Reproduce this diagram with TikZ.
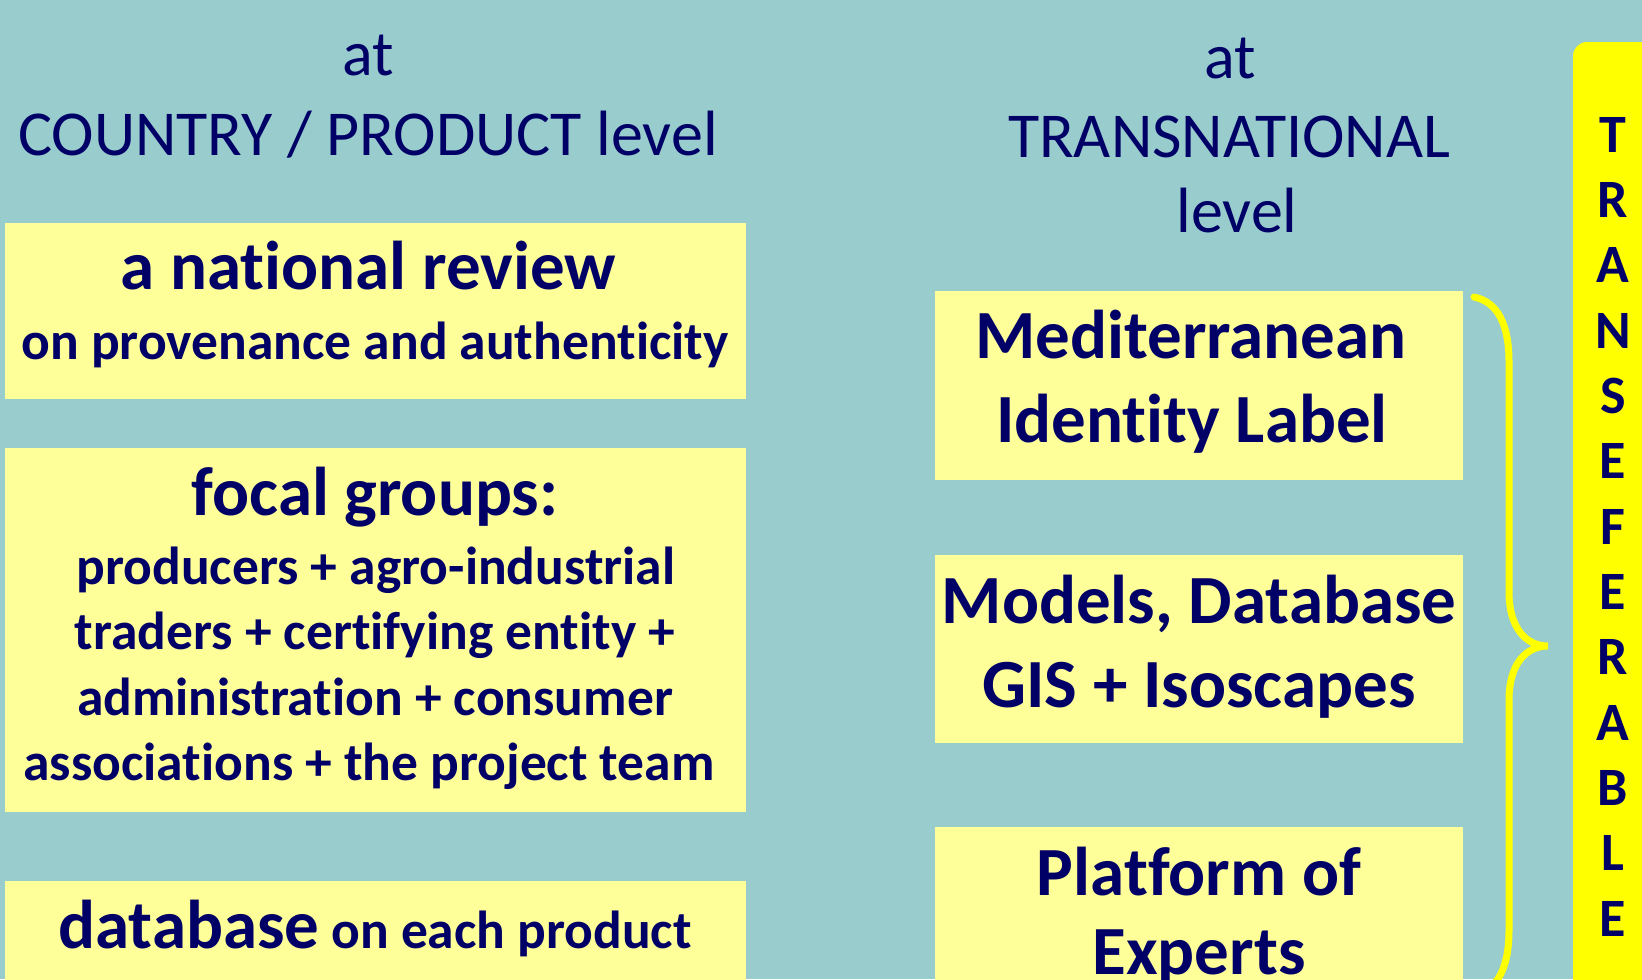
\documentclass[tikz,border=0pt]{standalone}
\usepackage{fontspec}
\setmainfont{Carlito}[RawFeature={-liga,-dlig,-clig}]
\definecolor{bgteal}{HTML}{99CCCC}
\definecolor{paleyellow}{HTML}{FFFF99}
\definecolor{brightyellow}{HTML}{FFFF00}
\definecolor{navy}{HTML}{000066}
\tikzset{
  heading/.style={text=navy, inner sep=0pt, anchor=base, font=\fontsize{64bp}{78bp}\selectfont},
  bigline/.style={text=navy, inner sep=0pt, anchor=base, font=\fontsize{69bp}{84bp}\selectfont\bfseries},
  smallline/.style={text=navy, inner sep=0pt, anchor=base, font=\fontsize{53.5bp}{65bp}\selectfont\bfseries},
  letter/.style={text=navy, inner sep=0pt, anchor=base, font=\fontsize{54bp}{65bp}\selectfont\bfseries},
  panel/.style={fill=paleyellow},
}
\begin{document}
\begin{tikzpicture}[x=1bp, y=-1bp]
  \useasboundingbox (0,0) rectangle (1642,979);
  \clip (0,0) rectangle (1642,979);
  \fill[bgteal] (0,0) rectangle (1642,979);

  % column headings
  \node[heading] (hlat) at (368,75) {at};
  \node[heading] (hlcp) at (368,155) {COUNTRY / PRODUCT level};
  \node[heading] (hrat) at (1230,78) {at};
  \node[heading] (hrtn) at (1229,157) {TRANSNATIONAL};
  \node[heading] (hrlv) at (1237,232) {level};

  % country / product level panels
  \fill[panel] (5,223) rectangle (746,399);
  \node[bigline] (rev1) at (368,289) {a national review};
  \node[smallline] (rev2) at (375,359) {on provenance and authenticity};

  \fill[panel] (5,448) rectangle (746,812);
  \node[bigline] (foc0) at (375,515) {focal groups:};
  \node[smallline] (foc1) at (376,584) {producers + agro-industrial};
  \node[smallline] (foc2) at (375,649) {traders + certifying entity +};
  \node[smallline] (foc3) at (375,715) {administration + consumer};
  \node[smallline] (foc4) at (369,780) {associations + the project team};

  \fill[panel] (5,881) rectangle (746,1000);
  \node[smallline] (dbl) at (375,948) {{\fontsize{69bp}{84bp}\selectfont database} on each product};

  % transnational level panels
  \fill[panel] (935,291) rectangle (1463,480);
  \node[bigline] (med1) at (1191,358) {Mediterranean};
  \node[bigline] (med2) at (1192,442) {Identity Label};

  \fill[panel] (935,555) rectangle (1463,743);
  \node[bigline] (mod1) at (1199,623) {Models, Database};
  \node[bigline] (mod2) at (1199,707) {GIS + Isoscapes};

  \fill[panel] (935,827) rectangle (1463,1000);
  \node[bigline] (pla1) at (1199,895) {Platform of};
  \node[bigline] (pla2) at (1199,974) {Experts};

  % curly brace grouping the transnational panels
  \draw[brightyellow, line width=7bp, line cap=round]
    (1474,297) .. controls (1498,302) and (1509,325) .. (1509,362)
    -- (1509,592) .. controls (1509,628) and (1526,646) .. (1548,646)
    .. controls (1526,646) and (1509,664) .. (1509,700)
    -- (1509,930) .. controls (1509,967) and (1498,990) .. (1474,995);

  % vertical banner
  \fill[brightyellow, rounded corners=14bp] (1573,42) rectangle (1680,1020);
  \foreach \ch [count=\i from 0] in {T,R,A,N,S,E,F,E,R,A,B,L,E} {
    \node[letter] (ban\i) at (1613,{152+65.35*\i}) {\ch};
  }
\end{tikzpicture}
\end{document}
